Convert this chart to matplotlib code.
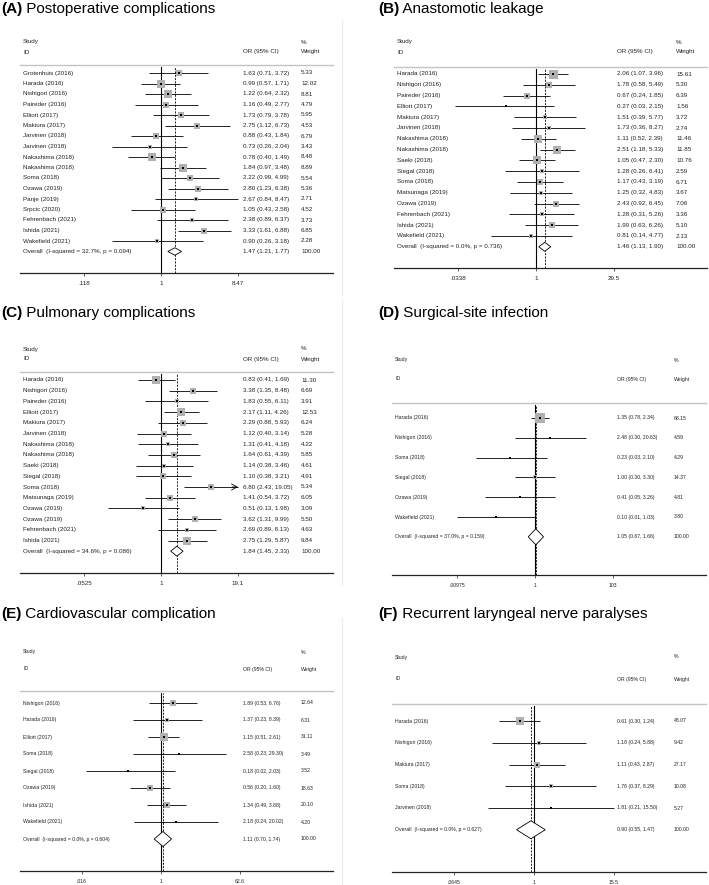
import numpy as np
import matplotlib.pyplot as plt
from matplotlib.patches import Polygon
from matplotlib.ticker import NullLocator
from matplotlib.transforms import blended_transform_factory

plt.rcParams['font.family'] = ['Liberation Sans', 'DejaVu Sans']

W, H = 709, 885

# (A) Postoperative complications
studies_a = ["Grotenhuis (2016)", "Harada (2016)", "Nishigori (2016)", "Paireder (2016)",
             "Elliott (2017)", "Makiura (2017)", "Jarvinen (2018)", "Jarvinen (2018)",
             "Nakashima (2018)", "Nakashima (2018)", "Soma (2018)", "Ozawa (2019)",
             "Panje (2019)", "Srpcic (2020)", "Fehrenbach (2021)", "Ishida (2021)",
             "Wakefield (2021)"]
or_a = [1.63, 0.99, 1.22, 1.16, 1.73, 2.75, 0.88, 0.73, 0.78, 1.84, 2.22, 2.80, 2.67, 1.05, 2.38, 3.33, 0.90]
lo_a = [0.71, 0.57, 0.64, 0.49, 0.79, 1.12, 0.43, 0.26, 0.40, 0.97, 0.99, 1.23, 0.84, 0.43, 0.89, 1.61, 0.26]
hi_a = [3.72, 1.71, 2.32, 2.77, 3.78, 6.73, 1.84, 2.04, 1.49, 3.48, 4.99, 6.38, 8.47, 2.58, 6.37, 6.88, 3.18]
w_a = [5.33, 12.02, 8.81, 4.79, 5.95, 4.53, 6.79, 3.43, 8.48, 8.89, 5.54, 5.36, 2.71, 4.52, 3.73, 6.85, 2.28]
pooled_a = (1.47, 1.21, 1.77)
het_a = ("32.7%", "0.094")
ticks_a = [0.118, 1, 8.47]
ticklabels_a = [".118", "1", "8.47"]

# (B) Anastomotic leakage
studies_b = ["Harada (2016)", "Nishigori (2016)", "Paireder (2016)", "Elliott (2017)",
             "Makiura (2017)", "Jarvinen (2018)", "Nakashima (2018)", "Nakashima (2018)",
             "Saeki (2018)", "Siegal (2018)", "Soma (2018)", "Matsunaga (2019)",
             "Ozawa (2019)", "Fehrenbach (2021)", "Ishida (2021)", "Wakefield (2021)"]
or_b = [2.06, 1.78, 0.67, 0.27, 1.51, 1.73, 1.11, 2.51, 1.05, 1.28, 1.17, 1.25, 2.43, 1.28, 1.99, 0.81]
lo_b = [1.07, 0.58, 0.24, 0.03, 0.39, 0.36, 0.52, 1.18, 0.47, 0.26, 0.43, 0.32, 0.92, 0.31, 0.63, 0.14]
hi_b = [3.96, 5.49, 1.85, 2.15, 5.77, 8.27, 2.39, 5.33, 2.30, 6.41, 3.19, 4.83, 6.45, 5.26, 6.26, 4.77]
w_b = [15.61, 5.30, 6.39, 1.56, 3.72, 2.74, 11.46, 11.85, 10.76, 2.59, 6.71, 3.67, 7.06, 3.36, 5.10, 2.13]
pooled_b = (1.46, 1.13, 1.90)
het_b = ("0.0%", "0.736")
ticks_b = [0.0338, 1, 29.5]
ticklabels_b = [".0338", "1", "29.5"]

# (C) Pulmonary complications
studies_c = ["Harada (2016)", "Nishigori (2016)", "Paireder (2016)", "Elliott (2017)",
             "Makiura (2017)", "Jarvinen (2018)", "Nakashima (2018)", "Nakashima (2018)",
             "Saeki (2018)", "Siegal (2018)", "Soma (2018)", "Matsunaga (2019)",
             "Ozawa (2019)", "Ozawa (2019)", "Fehrenbach (2021)", "Ishida (2021)"]
or_c = [0.83, 3.38, 1.83, 2.17, 2.29, 1.12, 1.31, 1.64, 1.14, 1.10, 6.80, 1.41, 0.51, 3.62, 2.69, 2.75]
lo_c = [0.41, 1.35, 0.55, 1.11, 0.88, 0.40, 0.41, 0.61, 0.38, 0.38, 2.43, 0.54, 0.13, 1.31, 0.89, 1.29]
hi_c = [1.69, 8.48, 6.11, 4.26, 5.93, 3.14, 4.18, 4.39, 3.46, 3.21, 19.05, 3.72, 1.98, 9.99, 8.13, 5.87]
w_c = [11.30, 6.69, 3.91, 12.53, 6.24, 5.28, 4.22, 5.85, 4.61, 4.91, 5.34, 6.05, 3.09, 5.50, 4.63, 9.84]
pooled_c = (1.84, 1.45, 2.33)
het_c = ("34.6%", "0.086")
ticks_c = [0.0525, 1, 19.1]
ticklabels_c = [".0525", "1", "19.1"]

# (D) Surgical-site infection
studies_d = ["Harada (2016)", "Nishigori (2016)", "Soma (2018)", "Siegal (2018)",
             "Ozawa (2019)", "Wakefield (2021)"]
or_d = [1.35, 2.48, 0.23, 1.00, 0.41, 0.10]
lo_d = [0.78, 0.30, 0.03, 0.30, 0.05, 0.01]
hi_d = [2.34, 20.63, 2.10, 3.30, 3.26, 1.03]
w_d = [68.15, 4.59, 4.29, 14.37, 4.81, 3.80]
pooled_d = (1.05, 0.67, 1.66)
het_d = ("37.0%", "0.159")
ticks_d = [0.00975, 1, 103]
ticklabels_d = [".00975", "1", "103"]

# (E) Cardiovascular complication
studies_e = ["Nishigori (2016)", "Harada (2016)", "Elliott (2017)", "Soma (2018)",
             "Siegal (2018)", "Ozawa (2019)", "Ishida (2021)", "Wakefield (2021)"]
or_e = [1.89, 1.37, 1.15, 2.58, 0.18, 0.56, 1.34, 2.18]
lo_e = [0.53, 0.23, 0.51, 0.23, 0.02, 0.20, 0.49, 0.24]
hi_e = [6.76, 8.39, 2.61, 29.30, 2.03, 1.60, 3.68, 20.02]
w_e = [12.64, 6.31, 31.11, 3.49, 3.52, 18.63, 20.10, 4.20]
pooled_e = (1.11, 0.70, 1.74)
het_e = ("0.0%", "0.604")
ticks_e = [0.016, 1, 62.6]
ticklabels_e = [".016", "1", "62.6"]

# (F) Recurrent laryngeal nerve paralyses
studies_f = ["Harada (2016)", "Nishigori (2016)", "Makiura (2017)", "Soma (2018)", "Jarvinen (2018)"]
or_f = [0.61, 1.18, 1.11, 1.76, 1.81]
lo_f = [0.30, 0.24, 0.43, 0.37, 0.21]
hi_f = [1.24, 5.88, 2.87, 8.29, 15.50]
w_f = [48.07, 9.42, 27.17, 10.08, 5.27]
pooled_f = (0.90, 0.55, 1.47)
het_f = ("0.0%", "0.627")
ticks_f = [0.0645, 1, 15.5]
ticklabels_f = [".0645", "1", "15.5"]

# panel geometry in pixels
LAY_L = dict(left=20, right=333, x1=161, label=23, orx=243, wx=301, tx=1)
LAY_R = dict(left=392, right=706, label=395, orx=617, wx=674, tx=378)
TXT = '#222222'

fig = plt.figure(figsize=(W / 100, H / 100), dpi=100)
bg = fig.add_axes([0, 0, 1, 1])
bg.set_xlim(0, W)
bg.set_ylim(H, 0)
bg.axis('off')

# faint borders of the pasted left panels
for y0, y1 in [(20, 295), (300, 585), (618, 885)]:
    bg.plot([342, 342], [y0, y1], color='#ececec', lw=0.8)


def forest(lay, letter, title, studies, ors, los, his, ws, pooled, het, ticks, ticklabels, arrows=()):
    left, right = lay['left'], lay['right']
    top, bottom = lay['header'], lay['axis']
    r0, st = lay['row0'], lay['step']
    fs = lay['fs']

    ax = fig.add_axes([left / W, 1 - bottom / H, (right - left) / W, (bottom - top) / H])
    ax.patch.set_alpha(0)
    k = (lay['xhi'] - lay['x1']) / np.log(ticks[-1])
    ax.set_xscale('log')
    ax.set_xlim(np.exp((left - lay['x1']) / k), np.exp((right - lay['x1']) / k))
    ybot = (bottom - r0) / st
    ytop = (top - r0) / st
    ax.set_ylim(ybot, ytop)

    for s in ['left', 'right']:
        ax.spines[s].set_visible(False)
    ax.spines['top'].set_color('#c4c4c4')
    ax.spines['top'].set_linewidth(1.0)
    ax.spines['bottom'].set_color(TXT)
    ax.spines['bottom'].set_linewidth(0.9)
    ax.set_yticks([])
    ax.set_xticks(ticks)
    ax.set_xticklabels(ticklabels)
    ax.xaxis.set_minor_locator(NullLocator())
    ax.tick_params(axis='x', length=2, width=0.5, pad=3.5, labelsize=fs, colors=TXT)

    tr = blended_transform_factory(ax.transAxes, ax.transData)

    def fx(px):
        return (px - left) / (right - left)

    n = len(studies)
    wmax = max(ws)
    for i, (name, o, lo, hi, w) in enumerate(zip(studies, ors, los, his, ws)):
        ax.plot([lo, hi], [i, i], color='k', lw=0.6, solid_capstyle='butt')
        if i in arrows:
            # CI reaches the edge of the scale: open arrow head
            ax.annotate('', xy=(hi, i), xytext=(hi / 1.25, i),
                        arrowprops=dict(arrowstyle='->,head_length=0.4,head_width=0.22',
                                        lw=0.6, color='k', shrinkA=0, shrinkB=0))
        side = lay['box'] * np.sqrt(w / wmax) * 0.72
        ax.scatter([o], [i], marker='s', s=side ** 2, color='#b0b0b0', linewidths=0, zorder=3)
        ax.scatter([o], [i], marker='s', s=1.6, color='k', linewidths=0, zorder=4)
        ax.text(fx(lay['label']), i, name, transform=tr, fontsize=fs, va='center', color=TXT)
        ax.text(fx(lay['orx']), i, f"{o:.2f} ({lo:.2f}, {hi:.2f})", transform=tr,
                fontsize=fs, va='center', color=TXT)
        ax.text(fx(lay['wx']), i, f"{w:.2f}", transform=tr, fontsize=fs, va='center', color=TXT)

    # pooled estimate
    o, lo, hi = pooled
    h = lay['dia'] / 2 / st
    ax.add_patch(Polygon([(lo, n), (o, n - h), (hi, n), (o, n + h)], closed=True,
                         facecolor='white', edgecolor='k', lw=0.6, zorder=3))
    ax.text(fx(lay['label']), n, f"Overall  (I-squared = {het[0]}, p = {het[1]})", transform=tr,
            fontsize=fs, va='center', color=TXT)
    ax.text(fx(lay['orx']), n, f"{o:.2f} ({lo:.2f}, {hi:.2f})", transform=tr,
            fontsize=fs, va='center', color=TXT)
    ax.text(fx(lay['wx']), n, "100.00", transform=tr, fontsize=fs, va='center', color=TXT)

    yline = (top + 2 - r0) / st
    ax.plot([1, 1], [ybot, yline], color='k', lw=0.8, zorder=2)
    ax.plot([o, o], [ybot, yline], color='k', lw=0.6, ls=(0, (2.5, 1.5)), zorder=2)

    # header
    bg.text(lay['label'], lay['study'], "Study", fontsize=fs, va='center', color=TXT)
    bg.text(lay['label'], lay['id'], "ID", fontsize=fs, va='center', color=TXT)
    bg.text(lay['orx'], lay['id'], "OR (95% CI)", fontsize=fs, va='center', color=TXT)
    bg.text(lay['wx'], lay['study'], "%", fontsize=fs, va='center', color=TXT)
    bg.text(lay['wx'], lay['id'], "Weight", fontsize=fs, va='center', color=TXT)

    # panel title
    t = bg.text(lay['tx'], lay['ty'], letter, fontsize=11, fontweight='bold', va='baseline')
    bg.annotate(" " + title, xy=(1, 0), xycoords=t, va='bottom', ha='left', fontsize=11)


forest(dict(LAY_L, header=65, axis=273, row0=73, step=10.5, xhi=238, study=42, id=52,
            ty=13, fs=4.5, box=8.5, dia=7.5),
       "(A)", "Postoperative complications", studies_a, or_a, lo_a, hi_a, w_a,
       pooled_a, het_a, ticks_a, ticklabels_a)

forest(dict(LAY_R, left=394, right=707, header=67, axis=268, row0=74, step=10.8, x1=536, xhi=614,
            label=397, orx=617, wx=676, study=42, id=52, ty=13, fs=4.5, box=9, dia=9),
       "(B)", "Anastomotic leakage", studies_b, or_b, lo_b, hi_b, w_b,
       pooled_b, het_b, ticks_b, ticklabels_b)

forest(dict(LAY_L, header=372, axis=573, row0=380, step=10.7, xhi=238, study=349, id=359,
            ty=317, fs=4.5, box=8, dia=10),
       "(C)", "Pulmonary complications", studies_c, or_c, lo_c, hi_c, w_c,
       pooled_c, het_c, ticks_c, ticklabels_c, arrows=(10,))

forest(dict(LAY_R, header=403, axis=575, row0=418, step=19.8, x1=535, xhi=613,
            study=360, id=379, ty=317, fs=3.7, box=10.5, dia=16),
       "(D)", "Surgical-site infection", studies_d, or_d, lo_d, hi_d, w_d,
       pooled_d, het_d, ticks_d, ticklabels_d)

forest(dict(LAY_L, header=691, axis=871, row0=703, step=17, xhi=240, study=652, id=669,
            ty=618, fs=3.7, box=8, dia=15),
       "(E)", "Cardiovascular complication", studies_e, or_e, lo_e, hi_e, w_e,
       pooled_e, het_e, ticks_e, ticklabels_e)

forest(dict(LAY_R, header=704, axis=872, row0=721, step=21.75, x1=534, xhi=614,
            study=657, id=679, ty=618, fs=3.7, box=7.5, dia=18),
       "(F)", "Recurrent laryngeal nerve paralyses", studies_f, or_f, lo_f, hi_f, w_f,
       pooled_f, het_f, ticks_f, ticklabels_f)

fig.savefig("out.png", dpi=100)
